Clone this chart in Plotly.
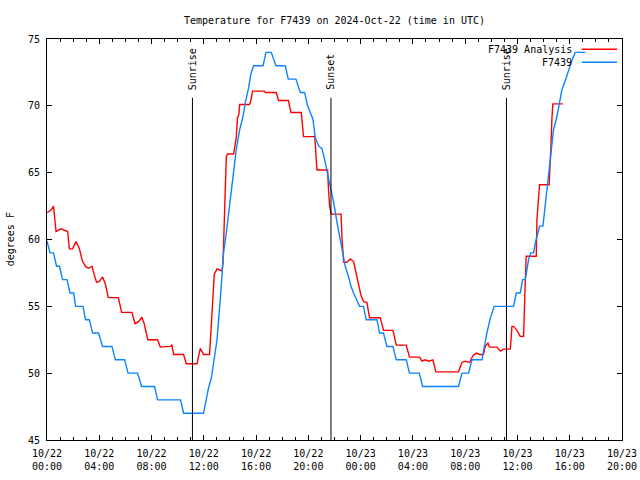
import pandas as pd
import plotly.graph_objects as go

# ---- data (hours after 2024-10-22 00:00 UTC, temperature in degF) ----
obs_hours = [0.00, 0.23, 0.50, 0.73, 0.96, 1.19, 1.53, 1.76, 2.04, 2.19, 2.75, 2.95, 3.24,
             3.49, 3.95, 4.25, 4.97, 5.23, 5.94, 6.20, 6.93, 7.24, 8.23, 8.46, 10.22, 10.45,
             11.98, 12.19, 12.36, 12.57, 12.74, 13.01, 13.26, 13.51, 13.72, 13.89, 14.08,
             14.28, 14.48, 14.74, 15.00, 15.17, 15.42, 15.61, 15.81, 16.53, 16.76, 17.16,
             17.52, 18.23, 18.46, 19.05, 19.38, 19.71, 19.94, 20.35, 20.53, 20.78, 21.04,
             21.24, 21.55, 21.75, 21.93, 22.19, 22.44, 22.65, 22.82, 23.08, 23.26, 23.46,
             23.72, 23.92, 24.22, 24.43, 25.25, 25.45, 25.75, 26.01, 26.47, 26.73, 27.49,
             27.74, 28.49, 28.74, 31.49, 31.75, 32.26, 32.52, 33.28, 33.40, 33.66, 33.92,
             34.22, 35.70, 35.91, 36.21, 36.40, 36.60, 36.85, 37.02, 37.23, 37.36, 37.61,
             37.69, 37.95, 38.20, 38.33, 38.45, 38.51, 38.64, 38.76, 39.02, 39.22, 39.40,
             39.66, 39.91, 40.17, 40.42, 41.19]
obs_temp = [59.9, 59.0, 59.0, 58.0, 58.0, 57.0, 57.0, 56.0, 56.0, 55.0, 55.0, 54.0, 54.0,
            53.0, 53.0, 52.0, 52.0, 51.0, 51.0, 50.0, 50.0, 49.0, 49.0, 48.0, 48.0, 47.0,
            47.0, 48.0, 48.9, 49.6, 50.7, 52.5, 55.5, 59.0, 60.5, 61.8, 63.5,
            65.2, 66.7, 68.2, 69.2, 70.2, 71.3, 72.4, 73.0, 73.0, 74.0, 74.0,
            73.0, 73.0, 72.0, 72.0, 71.0, 71.0, 70.0, 69.0, 67.6, 67.0, 66.8,
            66.0, 64.6, 63.7, 62.8, 61.3, 60.1, 59.0, 58.0, 57.2, 56.5, 56.0,
            55.5, 55.0, 55.0, 54.0, 54.0, 53.0, 53.0, 52.0, 52.0, 51.0, 51.0,
            50.0, 50.0, 49.0, 49.0, 50.0, 50.0, 51.0, 51.0, 51.7, 53.0, 54.1,
            55.0, 55.0, 56.0, 56.0, 57.0, 57.0, 58.5, 59.0, 59.0, 59.7, 60.8,
            61.0, 61.0, 63.2, 64.0, 65.0, 66.0, 67.0, 68.2, 69.2, 70.2, 71.2,
            71.9, 72.7, 73.4, 74.0, 74.0]

ana_hours = [0.00, 0.31, 0.50, 0.69, 1.07, 1.32, 1.58, 1.71, 1.96, 2.22, 2.47, 2.72, 2.98,
             3.18, 3.44, 3.62, 3.79, 4.00, 4.25, 4.46, 4.69, 5.46, 5.71, 6.50, 6.73, 7.01,
             7.25, 7.44, 7.71, 8.46, 8.67, 9.43, 9.55, 9.69, 10.45, 10.66, 11.48, 11.73,
             11.98, 12.44, 12.57, 12.70, 12.80, 13.01, 13.21, 13.39, 13.47, 13.57, 13.64,
             13.72, 13.82, 14.28, 14.48, 14.58, 14.69, 14.74, 15.50, 15.61, 15.73, 16.63,
             16.70, 17.54, 17.72, 18.48, 18.67, 19.46, 19.63, 20.49, 20.66, 21.47, 21.55,
             21.63, 21.75, 22.50, 22.58, 22.65, 22.70, 22.95, 23.21, 23.46, 23.67, 23.84,
             24.02, 24.22, 24.48, 24.68, 25.50, 25.75, 26.47, 26.73, 27.49, 27.74, 28.51,
             28.69, 28.94, 29.20, 29.53, 29.75, 31.49, 31.75, 32.00, 32.33, 32.59, 32.85,
             33.10, 33.40, 33.53, 33.74, 33.86, 34.43, 34.68, 34.93, 35.45, 35.58, 35.70,
             35.96, 36.21, 36.47, 36.54, 36.60, 36.67, 37.44, 37.49, 37.61, 37.69, 38.43,
             38.51, 38.56, 38.64, 38.71, 39.48]
ana_temp = [62.0, 62.2, 62.5, 60.6, 60.8, 60.7, 60.6, 59.3, 59.3, 59.85, 59.35, 58.35, 57.95,
            57.85, 58.0, 57.35, 56.8, 56.85, 57.2, 56.7, 55.65, 55.65, 54.55, 54.55, 53.7, 53.85,
            54.2, 53.7, 52.5, 52.5, 51.95, 52.0, 52.1, 51.4, 51.4, 50.7, 50.7, 51.85,
            51.4, 51.4, 53.5, 56.4, 57.4, 57.8, 57.7, 57.65, 58.3, 61.7, 65.1,
            66.2, 66.4, 66.4, 67.6, 69.1, 69.4, 70.1, 70.1, 70.45, 71.1, 71.1,
            71.0, 71.0, 70.4, 70.4, 69.5, 69.5, 67.7, 67.7, 65.2, 65.2, 63.6,
            62.5, 61.9, 61.9, 60.0, 58.5, 58.3, 58.3, 58.55, 58.35, 57.35, 56.5,
            55.85, 55.35, 55.3, 54.15, 54.15, 53.2, 53.2, 52.1, 52.1, 51.2, 51.2,
            50.9, 51.0, 50.9, 51.0, 50.1, 50.1, 50.8, 50.9, 50.8, 51.3, 51.5,
            51.4, 51.4, 52.0, 52.25, 51.95, 51.95, 51.65, 51.8, 51.8, 53.5, 53.5,
            53.2, 52.75, 52.75, 55.7, 57.0, 58.75, 58.75, 61.5, 63.2, 64.1, 64.1,
            65.4, 67.0, 69.1, 70.15, 70.15]

sun_labels = ["Sunrise", "Sunset", "Sunrise"]
sun_hours = [11.13, 21.73, 35.16]

series_names = ["F7439 Analysis", "F7439"]
series_colors = ["#ff0000", "#0a84ff"]

base = pd.Timestamp("2024-10-22 00:00")


def to_time(hours):
    return [base + pd.Timedelta(hours=h) for h in hours]


fig = go.Figure()
fig.add_trace(go.Scatter(x=to_time(ana_hours), y=ana_temp, mode="lines",
                         name=series_names[0], hoverinfo="skip",
                         line=dict(color=series_colors[0], width=1.4)))
fig.add_trace(go.Scatter(x=to_time(obs_hours), y=obs_temp, mode="lines",
                         name=series_names[1], hoverinfo="skip",
                         line=dict(color=series_colors[1], width=1.4)))

FONT = "DejaVu Sans Mono"
shapes = []
annotations = []
for lab, t in zip(sun_labels, to_time(sun_hours)):
    shapes.append(dict(type="line", xref="x", yref="y", x0=t, x1=t, y0=45, y1=70.6,
                       line=dict(color="black", width=1), layer="above"))
    annotations.append(dict(text=lab, x=t, y=71.05, xref="x", yref="y", textangle=-90,
                            showarrow=False, xanchor="center", yanchor="bottom",
                            font=dict(family=FONT, size=10, color="black")))

# key (text left of the line sample, gnuplot style)
key_y = [0.9743, 0.9419]
for name, col, ky in zip(series_names, series_colors, key_y):
    annotations.append(dict(text=name, x=0.9165, y=ky, xref="paper", yref="paper",
                            xanchor="right", yanchor="middle", showarrow=False,
                            font=dict(family=FONT, size=10, color="black")))
    shapes.append(dict(type="line", xref="paper", yref="paper", x0=0.9299, x1=0.9913,
                       y0=ky, y1=ky, line=dict(color=col, width=1.4), layer="above"))

annotations.append(dict(text="degrees F", x=-0.063, y=0.5, xref="paper", yref="paper",
                        textangle=-90, showarrow=False, xanchor="center", yanchor="middle",
                        font=dict(family=FONT, size=10, color="black")))

fig.update_layout(
    width=640, height=480,
    margin=dict(l=47, r=18, t=39, b=40, autoexpand=False),
    paper_bgcolor="white", plot_bgcolor="white",
    showlegend=False,
    font=dict(family=FONT, size=10, color="black"),
    title=dict(text="Temperature for F7439 on 2024-Oct-22 (time in UTC)",
               x=0.5, xref="paper", xanchor="center",
               y=1 - 20 / 480, yref="container", yanchor="middle",
               font=dict(family=FONT, size=10, color="black")),
    shapes=shapes,
    annotations=annotations,
)
fig.update_xaxes(
    type="date",
    range=[base, base + pd.Timedelta(hours=44)],
    tick0=base, dtick=4 * 3600 * 1000,
    tickformat="%m/%d<br>%H:%M",
    ticks="inside", ticklen=5, tickcolor="black",
    ticklabelstandoff=4,
    minor=dict(dtick=3600 * 1000, ticks="inside", ticklen=3, tickcolor="black", showgrid=False),
    showline=True, linecolor="black", linewidth=1, mirror="ticks",
    showgrid=False, zeroline=False, automargin=False,
    tickfont=dict(family=FONT, size=10, color="black"),
)
fig.update_yaxes(
    range=[45, 75], dtick=5, tick0=45,
    ticks="inside", ticklen=5, tickcolor="black",
    ticklabelstandoff=4,
    showline=True, linecolor="black", linewidth=1, mirror="ticks",
    showgrid=False, zeroline=False, automargin=False,
    tickfont=dict(family=FONT, size=10, color="black"),
)

fig.write_html("out.html",
               config={"displayModeBar": False},
               post_script="document.body.style.margin='0';document.body.style.overflow='hidden';")
